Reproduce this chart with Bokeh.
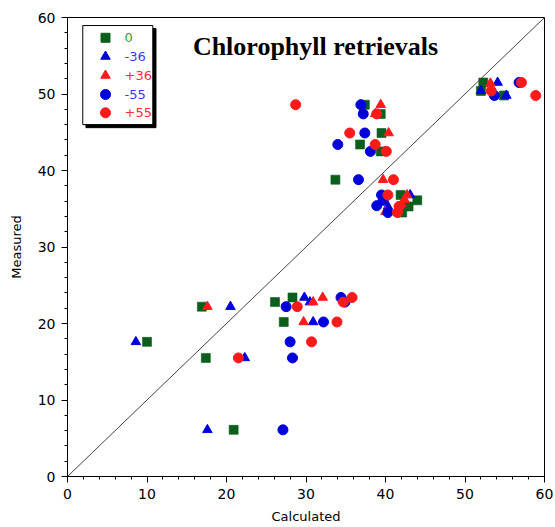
from bokeh.plotting import figure
from bokeh.models import Range1d, SingleIntervalTicker, Slope, Label
from bokeh.core.properties import value
from bokeh.embed import file_html
from bokeh.resources import INLINE

# Series: offset angle (0, -36, +36, -55, +55); calculated vs measured chlorophyll
sq0_x = [20.9, 17.4, 10.0, 27.2, 16.9, 26.1, 28.3, 42.1, 42.9, 44.0, 41.9, 33.7, 39.4, 36.8, 39.5, 39.4, 37.4, 54.9, 52.0, 52.3]
sq0_y = [6.1, 15.5, 17.6, 20.2, 22.2, 22.8, 23.4, 34.5, 35.3, 36.1, 36.8, 38.8, 42.5, 43.4, 44.9, 47.4, 48.6, 49.8, 50.4, 51.5]

tm36_x = [17.6, 22.3, 8.6, 30.9, 20.5, 30.5, 29.8, 40.3, 43.1, 55.2, 52.0, 54.1]
tm36_y = [6.1, 15.5, 17.6, 20.2, 22.2, 22.8, 23.4, 35.3, 36.8, 49.8, 50.4, 51.5]

tp36_x = [17.6, 29.7, 30.9, 32.1, 40.0, 42.0, 42.4, 42.7, 39.7, 40.4, 38.7, 39.4, 53.2]
tp36_y = [22.2, 20.2, 22.8, 23.4, 34.6, 35.6, 36.2, 36.8, 38.8, 44.9, 47.4, 48.6, 51.4]

cm55_x = [27.1, 28.3, 28.0, 32.2, 27.5, 34.9, 34.4, 40.3, 38.9, 39.7, 39.5, 36.6, 38.1, 34.0, 37.4, 37.2, 36.9, 53.7, 56.8]
cm55_y = [6.1, 15.5, 17.6, 20.2, 22.2, 22.8, 23.4, 34.5, 35.4, 36.1, 36.8, 38.8, 42.5, 43.4, 44.9, 47.4, 48.6, 49.8, 51.5]

cp55_x = [21.5, 30.7, 33.9, 28.9, 34.7, 35.8, 41.5, 41.7, 40.3, 41.0, 40.1, 38.7, 35.5, 38.9, 28.7, 58.9, 53.3, 57.1]
cp55_y = [15.5, 17.6, 20.2, 22.2, 22.8, 23.4, 34.5, 35.3, 36.8, 38.8, 42.5, 43.4, 44.9, 47.4, 48.6, 49.8, 50.4, 51.5]

legend_labels = ["0", "-36", "+36", "-55", "+55"]

GREEN = "#0b5e1c"
BLUE = "#0000dd"
RED = "#ff1a1a"
FONT = "DejaVu Sans"

p = figure(width=555, height=527, output_backend="svg", toolbar_location=None,
           x_range=Range1d(0, 60), y_range=Range1d(0, 60),
           min_border_left=67, min_border_right=11, min_border_top=17, min_border_bottom=51)

p.xgrid.visible = False
p.ygrid.visible = False
p.outline_line_color = "black"
p.outline_line_width = 1
p.background_fill_color = "white"
p.border_fill_color = "white"

for ax in (p.xaxis[0], p.yaxis[0]):
    ax.ticker = SingleIntervalTicker(interval=10, num_minor_ticks=5)
    ax.major_tick_in = 0
    ax.major_tick_out = 6
    ax.minor_tick_in = 0
    ax.minor_tick_out = 3
    ax.axis_line_color = "black"
    ax.major_tick_line_color = "black"
    ax.minor_tick_line_color = "black"
    ax.major_label_text_font = FONT
    ax.major_label_text_font_size = "14px"
    ax.major_label_text_color = "black"
    ax.axis_label_text_font = FONT
    ax.axis_label_text_font_size = "13px"
    ax.axis_label_text_font_style = "normal"
    ax.axis_label_text_color = "black"
    ax.major_label_standoff = 6

p.xaxis.axis_label = "Calculated"
p.yaxis.axis_label = "Measured"
p.xaxis.axis_label_standoff = 7
p.yaxis.axis_label_standoff = 11

# 1:1 reference line
p.add_layout(Slope(gradient=1, y_intercept=0, line_color="#444444", line_width=1))

# data series
p.scatter(sq0_x, sq0_y, marker="square", size=9, fill_color=GREEN, line_color=GREEN, line_alpha=0.6)
p.scatter(tm36_x, tm36_y, marker="triangle", size=9.5, fill_color=BLUE, line_color=BLUE)
p.scatter(tp36_x, tp36_y, marker="triangle", size=9.5, fill_color=RED, line_color=RED)
p.scatter(cm55_x, cm55_y, marker="circle", size=10, fill_color=BLUE, line_color=BLUE)
p.scatter(cp55_x, cp55_y, marker="circle", size=10, fill_color=RED, line_color=RED)

# legend box with drop shadow (data-space layout inside the frame)
box_l, box_r, box_b, box_t = 1.92, 10.73, 46.0, 58.95
dx, dy = 0.4, 0.4
p.quad(left=[box_l + dx], right=[box_r + dx], bottom=[box_b - dy], top=[box_t - dy],
       fill_color="black", line_color="black")
p.quad(left=[box_l], right=[box_r], bottom=[box_b], top=[box_t],
       fill_color="white", line_color="black", line_width=1)

row_y = [57.35, 54.9, 52.42, 49.93, 47.54]
mark_x = 4.78
text_x = 7.17
leg_markers = ["square", "triangle", "triangle", "circle", "circle"]
leg_fill = [GREEN, BLUE, RED, BLUE, RED]
leg_text_col = ["#3c9a3c", "#3a3aff", "#ff3030", "#3a3aff", "#ff3030"]
leg_sizes = [9, 9.5, 9.5, 10, 10]
for yy, mk, fc, sz in zip(row_y, leg_markers, leg_fill, leg_sizes):
    p.scatter([mark_x], [yy], marker=mk, size=sz, fill_color=fc, line_color=fc)
p.text(x=[text_x] * 5, y=row_y, text=legend_labels, text_color=leg_text_col,
       text_font=value(FONT), text_font_size="13px", text_baseline="middle", text_align="left")

# title inside the frame
p.add_layout(Label(x=31.2, y=56.2, text="Chlorophyll retrievals", text_align="center",
                   text_baseline="alphabetic", text_font="Liberation Serif",
                   text_font_size="26px", text_font_style="bold", text_color="black"))

open("out.html", "w").write(file_html(p, INLINE))
